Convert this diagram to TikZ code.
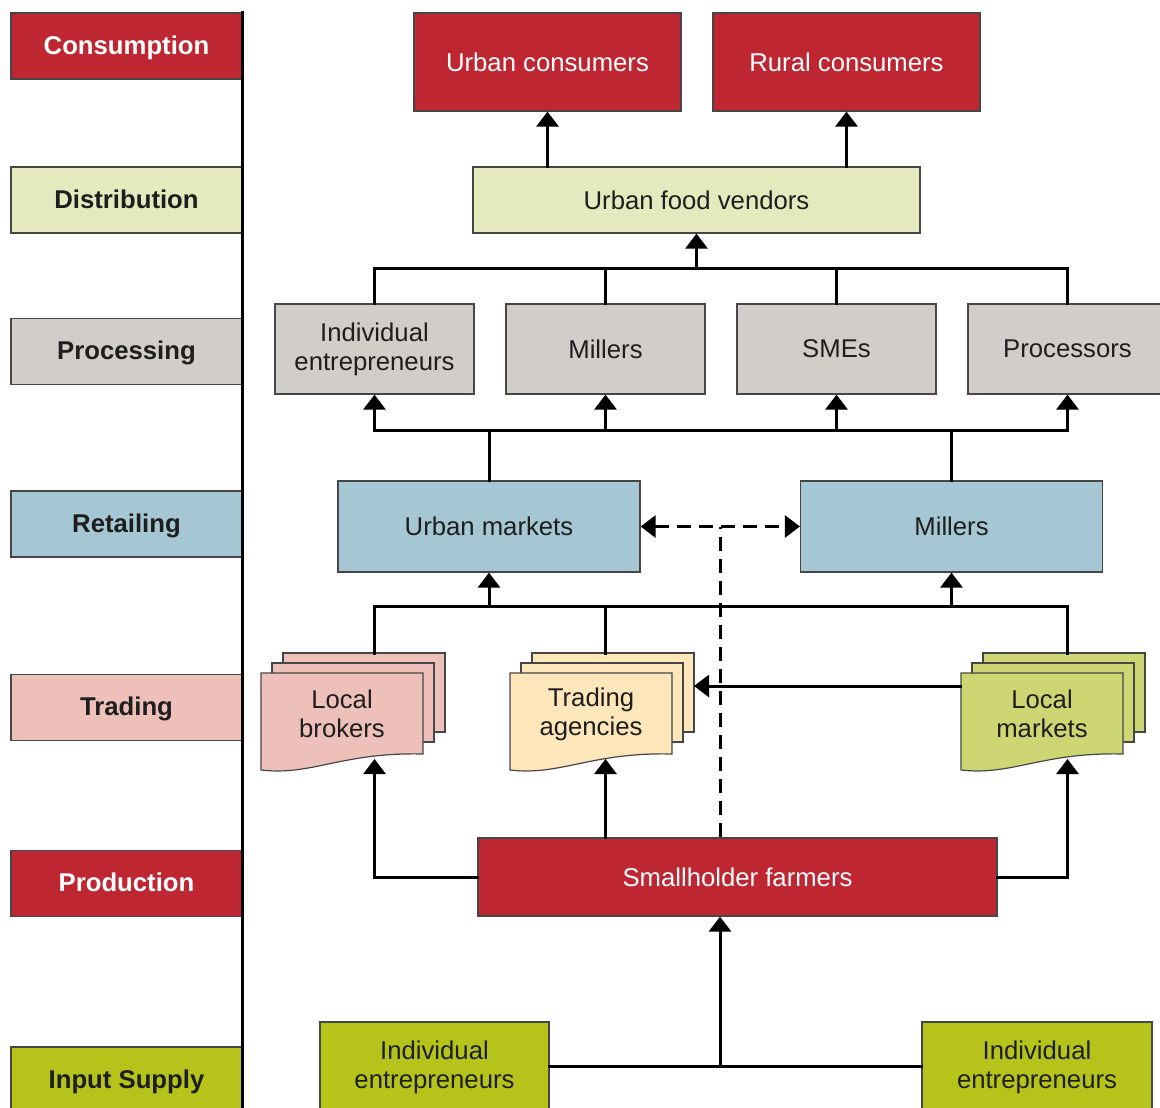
\documentclass[tikz,border=0pt]{standalone}
\usepackage{fontspec}
\setmainfont{Liberation Sans}
\usetikzlibrary{arrows.meta,calc}

\definecolor{cred}{RGB}{190,38,50}
\definecolor{cdist}{RGB}{228,233,190}
\definecolor{cproc}{RGB}{209,205,201}
\definecolor{cretail}{RGB}{165,198,211}
\definecolor{ctrade}{RGB}{237,192,186}
\definecolor{cagency}{RGB}{253,230,186}
\definecolor{cmarket}{RGB}{205,214,114}
\definecolor{cinput}{RGB}{181,195,26}
\definecolor{edge}{RGB}{70,70,70}
\definecolor{ink}{RGB}{30,30,30}

\newcommand{\bigfont}{\fontsize{25.7}{29}\selectfont}

% stack of documents: name, centre, fill, text
\newcommand{\docstack}[4]{%
  \begin{scope}[shift={#2}]
    \foreach \dx/\dy in {22/20,11/10}
      \draw[docline,fill=#3] (-81+\dx,-41-\dy) rectangle (81+\dx,38-\dy);
    \draw[docline,fill=#3] (-81,-41) -- (81,-41) -- (81,40)
      .. controls (0,38) and (-30,62) .. (-81,56) -- cycle;
    \node[doctext] (#1) at (0,0) {#4};
    \coordinate (#1-top) at (0,-61);
    \coordinate (#1-foot) at (0,45);
    \coordinate (#1-back) at (103,-28);
  \end{scope}}

\begin{document}
\begin{tikzpicture}[x=1pt,y=-1pt,
    box/.style={draw=edge, line width=1.2pt, align=center, inner sep=0pt,
      text=ink, font=\bigfont},
    stage/.style={box, minimum width=231pt, minimum height=66pt,
      text depth=2pt, font=\bigfont\bfseries},
    docline/.style={draw=edge, line width=1.2pt},
    doctext/.style={align=center, inner sep=0pt, minimum width=162pt,
      minimum height=82pt, text=ink, font=\bigfont},
    line/.style={line width=3pt, line cap=rect},
    arr/.style={line, -{Triangle[width=22pt,length=15pt]}},
    dashline/.style={line width=3pt, dash pattern=on 14pt off 8pt}]
  \useasboundingbox (0,0) rectangle (1160,1108);

  % stages
  \node[stage, fill=cred, text=white] (s1) at (126.5,46) {Consumption};
  \node[stage, fill=cdist] (s2) at (126.5,200) {Distribution};
  \node[stage, fill=cproc] (s3) at (126.5,351.5) {Processing};
  \node[stage, fill=cretail] (s4) at (126.5,524) {Retailing};
  \node[stage, fill=ctrade] (s5) at (126.5,707.5) {Trading};
  \node[stage, fill=cred, text=white] (s6) at (126.5,883.5) {Production};
  \node[stage, fill=cinput] (s7) at (126.5,1080) {Input Supply};
  \draw[line] (s1.north east) -- (s7.south east);

  % consumption and distribution
  \node[box, fill=cred, text=white, minimum width=267pt, minimum height=98pt]
    (uc) at (547.5,62) {Urban consumers};
  \node[box, fill=cred, text=white, minimum width=267pt, minimum height=98pt]
    (rc) at (846.5,62) {Rural consumers};
  \node[box, fill=cdist, minimum width=447pt, minimum height=66pt]
    (ufv) at (696.5,200) {Urban food vendors};

  % processing
  \node[box, fill=cproc, minimum width=199pt, minimum height=90pt]
    (p1) at (374.5,349) {Individual\\entrepreneurs};
  \node[box, fill=cproc, minimum width=199pt, minimum height=90pt]
    (p2) at (605.5,349) {Millers};
  \node[box, fill=cproc, minimum width=199pt, minimum height=90pt]
    (p3) at (836.5,349) {SMEs};
  \node[box, fill=cproc, minimum width=199pt, minimum height=90pt]
    (p4) at (1067.5,349) {Processors};

  % retailing
  \node[box, fill=cretail, minimum width=302pt, minimum height=91pt]
    (um) at (489,526.5) {Urban markets};
  \node[box, fill=cretail, minimum width=302pt, minimum height=91pt]
    (rm) at (951.5,526.5) {Millers};

  % trading
  \docstack{lb}{(342,714)}{ctrade}{Local\\brokers}
  \docstack{ta}{(591,714)}{cagency}{Trading\\agencies}
  \docstack{lm}{(1042,714)}{cmarket}{Local\\markets}

  % production and input supply
  \node[box, fill=cred, text=white, minimum width=519pt, minimum height=78pt]
    (sf) at (737.5,877) {Smallholder farmers};
  \node[box, fill=cinput, minimum width=229pt, minimum height=90pt]
    (is1) at (434.5,1067) {Individual\\entrepreneurs};
  \node[box, fill=cinput, minimum width=230pt, minimum height=90pt]
    (is2) at (1037,1067) {Individual\\entrepreneurs};

  \coordinate (b1) at (0,268);
  \coordinate (b2) at (0,430);
  \coordinate (b3) at (0,606);
  \coordinate (jn) at (720,1066);

  % connectors
  \draw[arr] (ufv.north -| uc.south) -- (uc.south);
  \draw[arr] (ufv.north -| rc.south) -- (rc.south);
  \draw[line] (p1.north) |- (b1 -| p4.north) -- (p4.north);
  \foreach \p in {p2,p3}
    \draw[line] (\p.north) -- (b1 -| \p.north);
  \draw[arr] (b1 -| ufv.south) -- (ufv.south);

  \draw[line] (b2 -| p1.south) -- (b2 -| p4.south);
  \foreach \p in {p1,p2,p3,p4}
    \draw[arr] (b2 -| \p.south) -- (\p.south);
  \draw[line] (b2 -| um.north) -- (um.north);
  \draw[line] (b2 -| rm.north) -- (rm.north);

  \draw[line] (lb-top -| p1.south) |- (b3 -| p4.south) -- (lm-top -| p4.south);
  \draw[line] (b3 -| p2.south) -- (ta-top -| p2.south);
  \draw[arr] (b3 -| um.south) -- (um.south);
  \draw[arr] (b3 -| rm.south) -- (rm.south);
  \draw[arr] (lm.west |- ta-back) -- (ta-back);

  \draw[arr] (sf.west) -| (lb-foot -| p1.south);
  \draw[arr] (sf.north -| p2.south) -- (ta-foot -| p2.south);
  \draw[arr] (sf.east) -| (lm-foot -| p4.south);

  \draw[dashline, {Triangle[width=22pt,length=15pt]}-{Triangle[width=22pt,length=15pt]}]
    (um.east) -- (rm.west);
  \draw[dashline] (sf.north -| jn) -- (um.east -| jn);

  \draw[line] (is1.east |- jn) -- (is2.west |- jn);
  \draw[arr] (jn) -- (sf.south -| jn);
\end{tikzpicture}
\end{document}
